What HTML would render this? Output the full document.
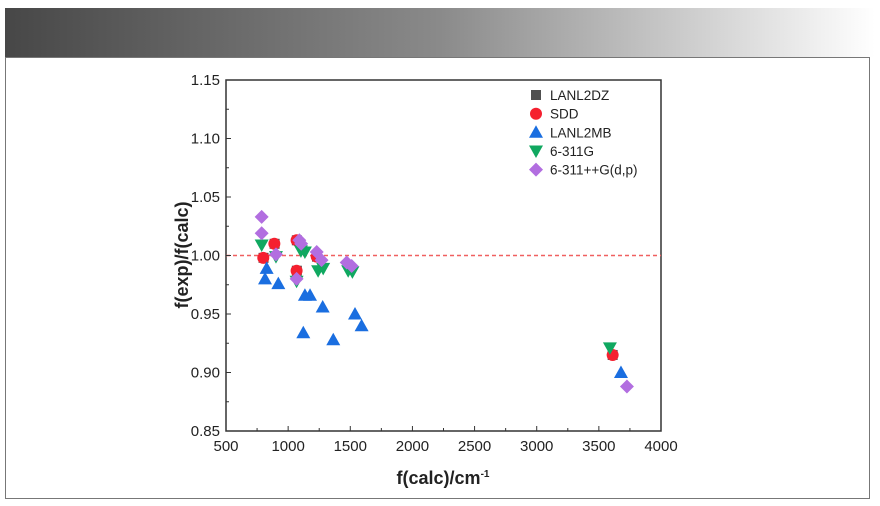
<!DOCTYPE html>
<html><head><meta charset="utf-8"><style>
html,body{margin:0;padding:0;background:#fff;width:880px;height:506px;overflow:hidden}
svg text{font-family:"Liberation Sans",sans-serif}
</style></head><body>
<svg id="chart" width="880" height="506">
<defs><linearGradient id="hg" x1="0" x2="1"><stop offset="0" stop-color="#474747"/><stop offset="0.5" stop-color="#8a8a8a"/><stop offset="1" stop-color="#ffffff"/></linearGradient></defs>
<rect x="5" y="8" width="870" height="49" fill="url(#hg)"/>
<rect x="5.5" y="57.5" width="864" height="441" fill="none" stroke="#777" stroke-width="1"/>
<g id="g"></g>
</svg>
<script>
const xTicks=[500,1000,1500,2000,2500,3000,3500,4000];
const yTicks=[0.85,0.90,0.95,1.00,1.05,1.10,1.15];
const seriesNames=["LANL2DZ","SDD","LANL2MB","6-311G","6-311++G(d,p)"];
const lanl2dzX=[802,891,1070,1070,1232,3611];
const lanl2dzY=[0.998,1.010,1.013,0.987,0.999,0.915];
const sddX=[800,889,1068,1068,1230,3611];
const sddY=[0.998,1.010,1.013,0.987,0.999,0.915];
const lanl2mbX=[827,814,921,1135,1176,1278,1122,1363,1538,1591,3678];
const lanl2mbY=[0.989,0.980,0.976,0.966,0.966,0.956,0.934,0.928,0.950,0.940,0.900];
const g6311X=[787,902,1103,1135,1241,1282,1483,1517,1068,3589];
const g6311Y=[1.009,0.999,1.004,1.003,0.987,0.989,0.987,0.986,0.978,0.921];
const gdpX=[787,787,902,1090,1105,1230,1269,1471,1511,1068,3726];
const gdpY=[1.033,1.019,1.001,1.013,1.010,1.003,0.996,0.994,0.991,0.980,0.888];
const L=226,R=661,T=80,B=431;
const sx=v=>L+(v-500)/3500*(R-L);
const sy=v=>B-(v-0.85)/0.30*(B-T);
const NS="http://www.w3.org/2000/svg";
const g=document.getElementById('g');
function el(t,a,p){const e=document.createElementNS(NS,t);for(const k in a)e.setAttribute(k,a[k]);(p||g).appendChild(e);return e;}
let e;
e=el('rect',{x:L,y:T,width:R-L,height:B-T,fill:'none',stroke:'#333','stroke-width':1.5});


e=el('line',{x1:L,x2:R,y1:sy(1),y2:sy(1),stroke:'#f06060','stroke-width':1.6,'stroke-dasharray':'4,3'});


xTicks.forEach((v,i)=>{
 el('line',{x1:sx(v),x2:sx(v),y1:B,y2:B-5,stroke:'#333'});
 if(i<xTicks.length-1) el('line',{x1:sx(v+250),x2:sx(v+250),y1:B,y2:B-3,stroke:'#333'});
 e=el('text',{x:sx(v),y:B+20,'text-anchor':'middle','font-size':15,fill:'#222'});e.textContent=v;
 
 
});
yTicks.forEach((v,i)=>{
 el('line',{x1:L,x2:L+5,y1:sy(v),y2:sy(v),stroke:'#333'});
 if(i<yTicks.length-1) el('line',{x1:L,x2:L+3,y1:sy(v+0.025),y2:sy(v+0.025),stroke:'#333'});
 e=el('text',{x:L-6,y:sy(v)+5,'text-anchor':'end','font-size':15,fill:'#222'});e.textContent=v.toFixed(2);
 
 
});
e=el('text',{x:443,y:484,'text-anchor':'middle','font-size':18,'font-weight':'bold',fill:'#222'});
e.innerHTML='f(calc)/cm<tspan dy="-7" font-size="10">-1</tspan>';


e=el('text',{x:0,y:0,'text-anchor':'middle','font-size':18,'font-weight':'bold',fill:'#222',transform:'translate(188,255) rotate(-90)'});
e.textContent='f(exp)/f(calc)';


const colors=['#505050','#f5202f','#1a6ee0','#10a860','#b26ee0'];
function marker(k,x,y){
 if(k===0) return el('rect',{x:x-5,y:y-5,width:10,height:10,fill:colors[0]});
 if(k===1) return el('circle',{cx:x,cy:y,r:6,fill:colors[1]});
 if(k===2) return el('polygon',{points:`${x},${y-7} ${x+7},${y+5.5} ${x-7},${y+5.5}`,fill:colors[2]});
 if(k===3) return el('polygon',{points:`${x-7},${y-5.5} ${x+7},${y-5.5} ${x},${y+7}`,fill:colors[3]});
 return el('polygon',{points:`${x},${y-7} ${x+7},${y} ${x},${y+7} ${x-7},${y}`,fill:colors[4]});
}
const xs=[lanl2dzX,sddX,lanl2mbX,g6311X,gdpX],ys=[lanl2dzY,sddY,lanl2mbY,g6311Y,gdpY];
const names=['lanl2dz-point','sdd-point','lanl2mb-point','6-311g-point','6-311ppg-point'];
for(let k=0;k<5;k++){
 for(let i=0;i<xs[k].length;i++){
  e=marker(k,sx(xs[k][i]),sy(ys[k][i]));
  
  
 }
}
const ly=[95,113.7,132.3,151,169.6];
seriesNames.forEach((n,k)=>{
 e=marker(k,536,ly[k]);
 
 
 e=el('text',{x:550,y:ly[k]+5,'font-size':13.5,fill:'#222'});e.textContent=n;
 
 
});
</script>
</body></html>
